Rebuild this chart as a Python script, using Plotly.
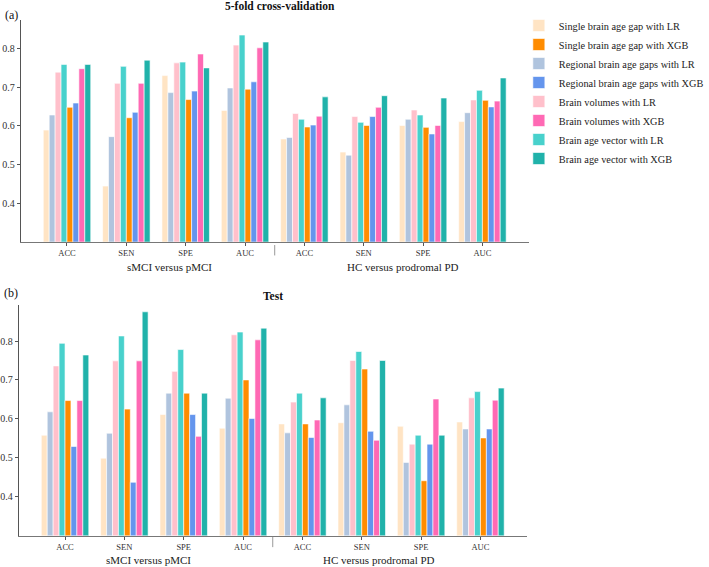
import plotly.graph_objects as go

W, H = 709, 567

# ---------------- data ----------------
metrics = ["ACC", "SEN", "SPE", "AUC", "ACC", "SEN", "SPE", "AUC"]
groups = ["sMCI versus pMCI", "HC versus prodromal PD"]

series = [
    "Single brain age gap with LR",
    "Regional brain age gaps with LR",
    "Brain volumes with LR",
    "Brain age vector with LR",
    "Single brain age gap with XGB",
    "Regional brain age gaps with XGB",
    "Brain volumes with XGB",
    "Brain age vector with XGB",
]
legend_rank = [1, 3, 5, 7, 2, 4, 6, 8]
colors = ["#FFE4C4", "#B0C4DE", "#FFC0CB", "#48D1CC",
          "#FF8C00", "#6495ED", "#FF69B4", "#20B2AA"]

cv_single_lr = [0.589, 0.444, 0.730, 0.640, 0.566, 0.532, 0.601, 0.611]
cv_regional_lr = [0.628, 0.572, 0.686, 0.698, 0.570, 0.524, 0.617, 0.634]
cv_volumes_lr = [0.739, 0.710, 0.763, 0.809, 0.632, 0.624, 0.641, 0.667]
cv_vector_lr = [0.759, 0.754, 0.765, 0.835, 0.617, 0.609, 0.628, 0.692]
cv_single_xgb = [0.648, 0.621, 0.668, 0.695, 0.597, 0.601, 0.596, 0.666]
cv_regional_xgb = [0.659, 0.635, 0.690, 0.714, 0.602, 0.624, 0.579, 0.649]
cv_volumes_xgb = [0.748, 0.710, 0.786, 0.802, 0.625, 0.648, 0.601, 0.664]
cv_vector_xgb = [0.759, 0.770, 0.750, 0.817, 0.675, 0.678, 0.672, 0.724]

test_single_lr = [0.558, 0.499, 0.611, 0.576, 0.587, 0.590, 0.581, 0.592]
test_regional_lr = [0.618, 0.563, 0.666, 0.653, 0.564, 0.636, 0.488, 0.574]
test_volumes_lr = [0.736, 0.749, 0.722, 0.816, 0.643, 0.750, 0.535, 0.654]
test_vector_lr = [0.794, 0.813, 0.778, 0.823, 0.666, 0.773, 0.558, 0.670]
test_single_xgb = [0.647, 0.625, 0.666, 0.700, 0.587, 0.728, 0.441, 0.551]
test_regional_xgb = [0.529, 0.437, 0.611, 0.601, 0.552, 0.568, 0.535, 0.574]
test_volumes_xgb = [0.647, 0.749, 0.555, 0.803, 0.597, 0.545, 0.651, 0.648]
test_vector_xgb = [0.764, 0.875, 0.666, 0.833, 0.654, 0.750, 0.558, 0.679]

cv_values = [cv_single_lr, cv_regional_lr, cv_volumes_lr, cv_vector_lr,
             cv_single_xgb, cv_regional_xgb, cv_volumes_xgb, cv_vector_xgb]
test_values = [test_single_lr, test_regional_lr, test_volumes_lr, test_vector_lr,
               test_single_xgb, test_regional_xgb, test_volumes_xgb, test_vector_xgb]

y_ticks = [0.4, 0.5, 0.6, 0.7, 0.8]

# ---------------- figure ----------------
FONT = "Liberation Serif"
xpos = list(range(len(metrics)))

fig = go.Figure()
for i, name in enumerate(series):
    fig.add_trace(go.Bar(
        x=xpos, y=cv_values[i], name=name, legendgroup=name,
        legendrank=legend_rank[i], marker=dict(color=colors[i], line=dict(color="white", width=0.6)),
        xaxis="x", yaxis="y", showlegend=True))
for i, name in enumerate(series):
    fig.add_trace(go.Bar(
        x=xpos, y=test_values[i], name=name, legendgroup=name,
        legendrank=legend_rank[i], marker=dict(color=colors[i], line=dict(color="white", width=0.6)),
        xaxis="x2", yaxis="y2", showlegend=False))


def px_x(p):
    return p / W


def px_y(p):
    return 1 - p / H


axis_common = dict(
    tickmode="array", tickvals=xpos, ticktext=metrics, range=[-0.78, 7.78],
    showline=True, linecolor="#777", linewidth=1, ticks="outside", ticklen=3,
    tickcolor="#555", tickfont=dict(family=FONT, size=8.5, color="#333"),
    showgrid=False, zeroline=False, fixedrange=True,
)
yaxis_common = dict(
    tickmode="array", tickvals=y_ticks, ticktext=[str(v) for v in y_ticks],
    showline=True, linecolor="#555", linewidth=1, ticks="outside", ticklen=3,
    tickcolor="#555", tickfont=dict(family=FONT, size=10, color="#333"),
    showgrid=False, zeroline=False, fixedrange=True,
)

fig.update_layout(
    width=W, height=H,
    margin=dict(l=0, r=0, t=0, b=0),
    paper_bgcolor="white", plot_bgcolor="white",
    barmode="group", bargap=0.2, bargroupgap=0,
    font=dict(family=FONT, color="#222"),
    xaxis=dict(domain=[px_x(19), px_x(535)], anchor="y", **axis_common),
    yaxis=dict(domain=[px_y(241.7), px_y(20)], anchor="x", range=[0.3, 0.874], **yaxis_common),
    xaxis2=dict(domain=[px_x(17), px_x(533)], anchor="y2", **axis_common),
    yaxis2=dict(domain=[px_y(535.6), px_y(305)], anchor="x2", range=[0.3, 0.8925], **yaxis_common),
    legend=dict(
        x=px_x(525), y=px_y(11), xanchor="left", yanchor="top",
        font=dict(family=FONT, size=10.3, color="#222"),
        bgcolor="rgba(0,0,0,0)", traceorder="normal",
    ),
    showlegend=True,
)

ann = []
ann.append(dict(text="<b>5-fold cross-validation</b>", x=px_x(282), y=px_y(6),
                font=dict(size=11.5, family=FONT, color="#111")))
ann.append(dict(text="<b>Test</b>", x=px_x(275), y=px_y(296),
                font=dict(size=11.5, family=FONT, color="#111")))
ann.append(dict(text="(a)", x=px_x(10), y=px_y(15), font=dict(size=12, family=FONT, color="#111")))
ann.append(dict(text="(b)", x=px_x(9), y=px_y(293), font=dict(size=12, family=FONT, color="#111")))
ann.append(dict(text=groups[0], x=px_x(170), y=px_y(267), font=dict(size=11, family=FONT, color="#222")))
ann.append(dict(text=groups[1], x=px_x(407), y=px_y(267), font=dict(size=11, family=FONT, color="#222")))
ann.append(dict(text=groups[0], x=px_x(149), y=px_y(560), font=dict(size=11, family=FONT, color="#222")))
ann.append(dict(text=groups[1], x=px_x(383), y=px_y(560), font=dict(size=11, family=FONT, color="#222")))
for a in ann:
    a.update(xref="paper", yref="paper", showarrow=False, xanchor="center", yanchor="middle")
fig.update_layout(annotations=ann)

fig.add_shape(type="line", xref="x", yref="y domain", x0=3.5, x1=3.5, y0=-0.015, y1=-0.062,
              line=dict(color="#999", width=1))
fig.add_shape(type="line", xref="x2", yref="y2 domain", x0=3.5, x1=3.5, y0=-0.006, y1=-0.05,
              line=dict(color="#999", width=1))

fig.write_html("out.html", config={"displayModeBar": False},
               post_script="document.body.style.margin='0';")
